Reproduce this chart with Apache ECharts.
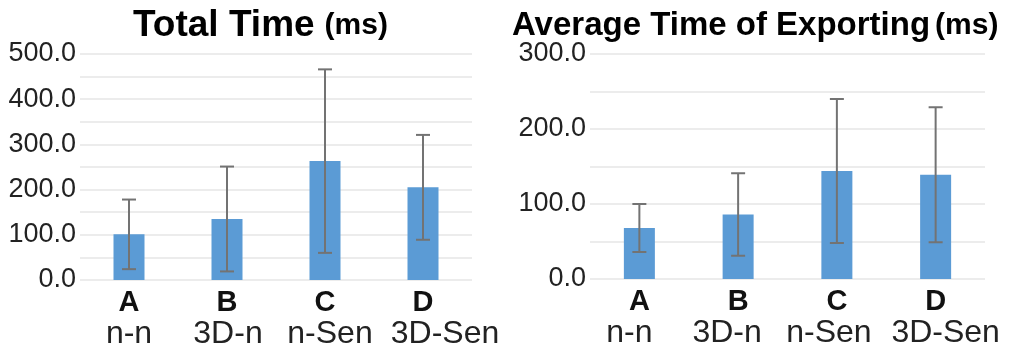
<!DOCTYPE html>
<html>
<head>
<meta charset="utf-8">
<script src="https://cdn.jsdelivr.net/npm/echarts@6/dist/echarts.min.js"></script>
<style>
html,body{margin:0;padding:0;background:#fff;}
#c{width:1018px;height:351px;}
</style>
</head>
<body>
<div id="c"></div>
<script>
const categories = ['A', 'B', 'C', 'D'];
const subLabels = ['n-n', '3D-n', 'n-Sen', '3D-Sen'];
const totalMean = [101, 135, 263, 205];
const totalSD = [77, 116, 203, 116];
const exportMean = [68, 86, 144, 139];
const exportSD = [32, 55, 96, 90];
const totalTicks = [0, 500, 50];
const exportTicks = [0, 300, 50];

const FONT = '"Liberation Sans", Arial, sans-serif';
const BAR = '#5B9BD5';
const ERR = '#737373';
// horizontal nudges of the second label line (layout only)
const SUB_SHIFT = [[0, 1, 5, 22], [-10, -11, -8, 10]];

function errData(mean, sd) {
  return mean.map((m, i) => [i, m - sd[i], m + sd[i]]);
}
function errRender(params, api) {
  const x = api.value(0);
  const lo = api.coord([x, api.value(1)]);
  const hi = api.coord([x, api.value(2)]);
  const hw = 7;
  const st = { stroke: ERR, lineWidth: 2 };
  return {
    type: 'group',
    children: [
      { type: 'line', shape: { x1: hi[0], y1: hi[1], x2: lo[0], y2: lo[1] }, style: st },
      { type: 'line', shape: { x1: hi[0] - hw, y1: hi[1], x2: hi[0] + hw, y2: hi[1] }, style: st },
      { type: 'line', shape: { x1: lo[0] - hw, y1: lo[1], x2: lo[0] + hw, y2: lo[1] }, style: st }
    ]
  };
}
function xAxis(gi) {
  const rich = {
    b: { fontFamily: FONT, fontWeight: 'bold', fontSize: 29, color: '#111', lineHeight: 30 }
  };
  SUB_SHIFT[gi].forEach((d, i) => {
    rich['s' + i] = {
      fontFamily: FONT, fontSize: 32, color: '#222', lineHeight: 32,
      padding: d >= 0 ? [0, 0, 0, 2 * d] : [0, -2 * d, 0, 0]
    };
  });
  return {
    type: 'category', gridIndex: gi, data: categories,
    axisLine: { show: false }, axisTick: { show: false },
    axisLabel: {
      margin: 8, interval: 0,
      formatter: (v, i) => '{b|' + v + '}\n{s' + i + '|' + subLabels[i] + '}',
      rich: rich
    }
  };
}
function yAxis(gi, t) {
  return {
    type: 'value', gridIndex: gi, min: t[0], max: t[1], interval: t[2],
    axisLine: { show: false }, axisTick: { show: false },
    splitLine: { lineStyle: { color: '#e6e6e6', width: 1.5 } },
    axisLabel: {
      margin: 4, fontFamily: FONT, fontSize: 27, color: '#222',
      formatter: v => (v % 100 === 0 ? v.toFixed(1) : '')
    }
  };
}

const chart = echarts.init(document.getElementById('c'), null, { renderer: 'canvas' });
chart.setOption({
  animation: false,
  backgroundColor: '#fff',
  title: [
    {
      left: 128, top: 2,
      text: '{a|Total Time}  {m|(ms)}',
      textStyle: {
        rich: {
          a: { fontFamily: FONT, fontWeight: 'bold', fontSize: 37, color: '#000' },
          m: { fontFamily: FONT, fontWeight: 'bold', fontSize: 30, color: '#000' }
        }
      }
    },
    {
      left: 507, top: 4,
      text: '{a|Average Time of Exporting} {m|(ms)}',
      textStyle: {
        rich: {
          a: { fontFamily: FONT, fontWeight: 'bold', fontSize: 33, color: '#000' },
          m: { fontFamily: FONT, fontWeight: 'bold', fontSize: 30, color: '#000' }
        }
      }
    }
  ],
  grid: [
    { left: 80, right: 546, top: 54, bottom: 71 },
    { left: 590, right: 33, top: 54, bottom: 72 }
  ],
  xAxis: [xAxis(0), xAxis(1)],
  yAxis: [yAxis(0, totalTicks), yAxis(1, exportTicks)],
  series: [
    { type: 'bar', xAxisIndex: 0, yAxisIndex: 0, data: totalMean, barWidth: 31, itemStyle: { color: BAR } },
    { type: 'custom', xAxisIndex: 0, yAxisIndex: 0, data: errData(totalMean, totalSD), renderItem: errRender, encode: { x: 0, y: [1, 2] }, z: 5 },
    { type: 'bar', xAxisIndex: 1, yAxisIndex: 1, data: exportMean, barWidth: 31, itemStyle: { color: BAR } },
    { type: 'custom', xAxisIndex: 1, yAxisIndex: 1, data: errData(exportMean, exportSD), renderItem: errRender, encode: { x: 0, y: [1, 2] }, z: 5 }
  ]
});
</script>
</body>
</html>
